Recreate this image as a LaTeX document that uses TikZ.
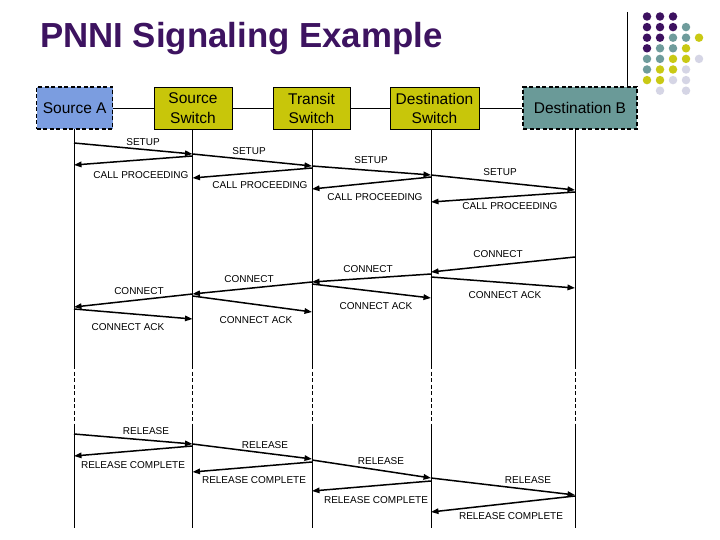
\documentclass[tikz,border=0pt]{standalone}
\usepackage{fontspec}
\setmainfont{Liberation Sans}
\usetikzlibrary{arrows.meta}
\definecolor{ttl}{HTML}{3D1360}
\definecolor{dP}{HTML}{3D1160}
\definecolor{dT}{HTML}{6F9C9C}
\definecolor{dY}{HTML}{C9C914}
\definecolor{dL}{HTML}{D5D5E5}
\definecolor{boxA}{HTML}{7B9DE0}
\definecolor{boxS}{HTML}{C8C60A}
\definecolor{boxB}{HTML}{6A9A98}
\def\emptydot{N}
\tikzset{
  endbox/.style={draw=black, line width=1.4pt, dash pattern=on 4pt off 2.5pt, minimum height=42pt, inner sep=0pt, font=\fontsize{15.5}{19}\selectfont, align=center},
  swbox/.style={draw=black, line width=0.8pt, fill=boxS, minimum height=42pt, inner sep=0pt, font=\fontsize{15.5}{19.5}\selectfont, align=center},
  life/.style={line width=0.8pt},
  lifedash/.style={line width=0.8pt, dash pattern=on 4pt off 2.5pt},
  msg/.style={line width=1.5pt, -{Triangle[length=7.5pt,width=5.5pt]}},
  lbl/.style={font=\fontsize{10}{12}\selectfont, inner sep=0pt},
  dot/.style={circle, inner sep=0pt, minimum size=8.5pt}
}
\begin{document}
\begin{tikzpicture}[x=1pt,y=-1pt]
\useasboundingbox (0,0) rectangle (720,540);
\fill[white] (0,0) rectangle (720,540);
% title
\node[anchor=base west, inner sep=0pt, text=ttl, font=\fontsize{34.8}{40}\selectfont\bfseries] (title) at (40,48) {PNNI Signaling Example};
% decoration
\coordinate (vt) at (627,12);
\coordinate (vb) at (627,87);
\draw[line width=0.8pt] (vt) -- (vb);
\foreach \r/\row in {0/{P,P,P,N,N},1/{P,P,P,T,N},2/{P,P,T,T,Y},3/{P,T,T,Y,N},4/{T,T,Y,Y,L},5/{T,Y,Y,L,N},6/{Y,Y,L,L,N},7/{N,L,N,L,N}}{
  \foreach \c [count=\i from 0] in \row {
    \ifx\c\emptydot\else
      \node[dot, fill=d\c] (dot-\r-\i) at (647+13*\i, 16.5+10.6*\r) {};
    \fi
  }
}
% boxes
\node[endbox, fill=boxA, minimum width=76pt] (A) at (74.7,108) {Source A};
\node[swbox, minimum width=78pt] (SS) at (193,108) {Source\\Switch};
\node[swbox, minimum width=77pt] (T) at (311.5,108.5) {Transit\\Switch};
\node[swbox, minimum width=89pt] (DS) at (434.5,108.5) {Destination\\Switch};
\node[endbox, fill=boxB, minimum width=114pt] (DB) at (580,108) {Destination B};
\draw[line width=0.8pt] (A.east |- 0,108) -- (SS.west |- 0,108);
\draw[line width=0.8pt] (SS.east |- 0,108) -- (T.west |- 0,108);
\draw[line width=0.8pt] (T.east |- 0,108) -- (DS.west |- 0,108);
\draw[line width=0.8pt] (DS.east |- 0,108) -- (DB.west |- 0,108);
% lifelines
\foreach \n/\x in {lA/74, lSS/192.5, lT/312, lDS/431, lDB/575}{
  \coordinate (\n) at (\x,129.5);
  \coordinate (\n-1) at (\x,365);
  \coordinate (\n-2) at (\x,428);
  \coordinate (\n-3) at (\x,528);
  \draw[life] (\n) -- (\n-1);
  \draw[lifedash] (\n-1) -- (\n-2);
  \draw[life] (\n-2) -- (\n-3);
}
% SETUP
\draw[msg] (lA |- 0,143) -- (lSS |- 0,154);
\node[lbl] (s1) at (143,142) {SETUP};
\draw[msg] (lSS |- 0,154) -- (lT |- 0,166);
\node[lbl] (s2) at (249,151) {SETUP};
\draw[msg] (lT |- 0,166) -- (lDS |- 0,175);
\node[lbl] (s3) at (371,160) {SETUP};
\draw[msg] (lDS |- 0,175) -- (lDB |- 0,190);
\node[lbl] (s4) at (500,172) {SETUP};
% CALL PROCEEDING
\draw[msg] (lSS |- 0,156) -- (lA |- 0,165);
\node[lbl] (c1) at (141,175) {CALL PROCEEDING};
\draw[msg] (lT |- 0,168) -- (lSS |- 0,178);
\node[lbl] (c2) at (260,185) {CALL PROCEEDING};
\draw[msg] (lDS |- 0,177) -- (lT |- 0,189);
\node[lbl] (c3) at (375,197) {CALL PROCEEDING};
\draw[msg] (lDB |- 0,192) -- (lDS |- 0,202);
\node[lbl] (c4) at (510,206) {CALL PROCEEDING};
% CONNECT
\draw[msg] (lDB |- 0,257) -- (lDS |- 0,272);
\node[lbl] (n1) at (498,254) {CONNECT};
\draw[msg] (lDS |- 0,274) -- (lT |- 0,282);
\node[lbl] (n2) at (368,269) {CONNECT};
\draw[msg] (lT |- 0,282) -- (lSS |- 0,294);
\node[lbl] (n3) at (249,279) {CONNECT};
\draw[msg] (lSS |- 0,294) -- (lA |- 0,307);
\node[lbl] (n4) at (139,291) {CONNECT};
% CONNECT ACK
\draw[msg] (lA |- 0,309) -- (lSS |- 0,319);
\node[lbl] (k1) at (128,327) {CONNECT ACK};
\draw[msg] (lSS |- 0,296) -- (lT |- 0,312);
\node[lbl] (k2) at (256,320) {CONNECT ACK};
\draw[msg] (lT |- 0,284) -- (lDS |- 0,298);
\node[lbl] (k3) at (376,306) {CONNECT ACK};
\draw[msg] (lDS |- 0,277) -- (lDB |- 0,288);
\node[lbl] (k4) at (505,295) {CONNECT ACK};
% RELEASE
\draw[msg] (lA |- 0,434) -- (lSS |- 0,444);
\node[lbl] (r1) at (146,431) {RELEASE};
\draw[msg] (lSS |- 0,444) -- (lT |- 0,459);
\node[lbl] (r2) at (265,445) {RELEASE};
\draw[msg] (lT |- 0,460) -- (lDS |- 0,478);
\node[lbl] (r3) at (381,461) {RELEASE};
\draw[msg] (lDS |- 0,478) -- (lDB |- 0,495);
\node[lbl] (r4) at (528,480) {RELEASE};
% RELEASE COMPLETE
\draw[msg] (lSS |- 0,446) -- (lA |- 0,456);
\node[lbl] (rc1) at (133,465) {RELEASE COMPLETE};
\draw[msg] (lT |- 0,462) -- (lSS |- 0,472);
\node[lbl] (rc2) at (254,480) {RELEASE COMPLETE};
\draw[msg] (lDS |- 0,481) -- (lT |- 0,491);
\node[lbl] (rc3) at (376,500) {RELEASE COMPLETE};
\draw[msg] (lDB |- 0,496) -- (lDS |- 0,512);
\node[lbl] (rc4) at (511,516) {RELEASE COMPLETE};
\end{tikzpicture}
\end{document}
